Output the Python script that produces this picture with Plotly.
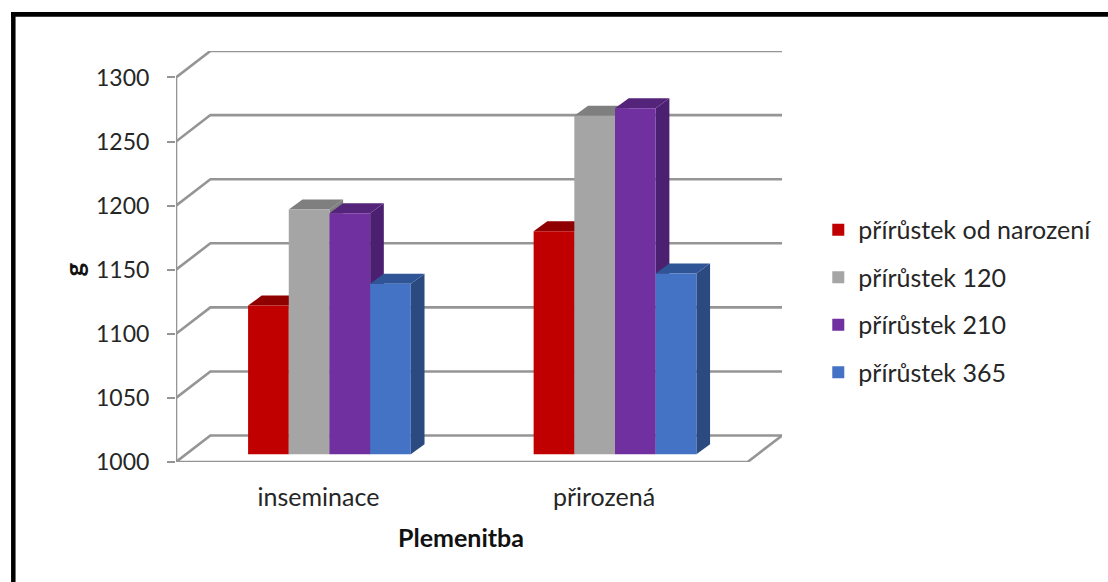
import plotly.graph_objects as go

# Average gain by breeding method
categories = ["inseminace", "přirozená"]
series_names = ["přírůstek od narození", "přírůstek 120", "přírůstek 210", "přírůstek 365"]
gain_birth = [1116, 1174]
gain_120 = [1191, 1264]
gain_210 = [1188, 1270]
gain_365 = [1133, 1141]
y_ticks = [1000, 1050, 1100, 1150, 1200, 1250, 1300]

series_values = [gain_birth, gain_120, gain_210, gain_365]
front_colors = ["#C00000", "#A5A5A5", "#7030A0", "#4472C4"]
top_colors = ["#8F0000", "#7F7F7F", "#54247A", "#2F5597"]
side_colors = ["#8F0000", "#7F7F7F", "#4B2070", "#2A4A80"]

WIDTH, HEIGHT = 1108, 582
LEFT, RIGHT_EDGE, TOP, BOTTOM_EDGE = 175.5, 781.7, 51.3, 461.7
PX_PER_X = 285.65      # pixels between two category centres
PX_PER_Y = 1.28        # pixels per gram
X_MIN = -(329 - LEFT) / PX_PER_X
X_MAX = (RIGHT_EDGE - 329) / PX_PER_X
Y_MIN = y_ticks[0]
Y_MAX = Y_MIN + (BOTTOM_EDGE - TOP) / PX_PER_Y

# Oblique projection offsets, converted to axis units
WALL_DX, WALL_DY = 34.4 / PX_PER_X, 26.4 / PX_PER_Y
BAR_DX, BAR_DY = 13.7 / PX_PER_X, 10 / PX_PER_Y
BAR_LIFT = 7.7 / PX_PER_Y
BAR_W = 40.7 / PX_PER_X
GROUP_W = BAR_W * len(series_names)
FLOOR_FRONT_MAX = X_MAX - WALL_DX
LABEL_SHIFT = -11 / PX_PER_X
GRID = "#959595"
PLOT_W = RIGHT_EDGE - LEFT
PLOT_H = BOTTOM_EDGE - TOP


def path(points):
    return "M" + " L".join(f"{x:.5f},{y:.3f}" for x, y in points)


def data_shape(points, fill=None, line=GRID, width=2.6):
    shape = dict(type="path", xref="x", yref="y", layer="below", path=path(points))
    if fill:
        shape.update(path=path(points) + " Z", fillcolor=fill, line=dict(width=0))
    else:
        shape.update(line=dict(color=line, width=width))
    return shape


def page_x(px):
    return (px - LEFT) / PLOT_W


def page_y(px):
    return (BOTTOM_EDGE - px) / PLOT_H


def page_rect(x0, y0, x1, y1):
    return dict(type="rect", xref="paper", yref="paper", layer="above",
                x0=page_x(x0), x1=page_x(x1), y0=page_y(y0), y1=page_y(y1),
                fillcolor="#000000", line=dict(width=0))


shapes = []

# Walls: each gridline runs along the side wall, then across the back wall
for tick in y_ticks:
    shapes.append(data_shape([(X_MIN, tick), (X_MIN + WALL_DX, tick + WALL_DY), (X_MAX, tick + WALL_DY)]))

# Floor outline and the vertical axis
shapes.append(data_shape([(X_MIN, Y_MIN), (FLOOR_FRONT_MAX, Y_MIN), (X_MAX, Y_MIN + WALL_DY)]))
shapes.append(data_shape([(X_MIN, Y_MIN), (X_MIN, y_ticks[-1])]))

# Top and side faces of the bars, drawn series by series underneath the front faces
for s, values in enumerate(series_values):
    for g, value in enumerate(values):
        x0 = g - GROUP_W / 2 + s * BAR_W
        x1 = x0 + BAR_W
        y0 = Y_MIN + BAR_LIFT
        y1 = value + BAR_LIFT
        shapes.append(data_shape(
            [(x1, y0), (x1 + BAR_DX, y0 + BAR_DY), (x1 + BAR_DX, y1 + BAR_DY), (x1, y1)],
            fill=side_colors[s]))
        shapes.append(data_shape(
            [(x0, y1), (x0 + BAR_DX, y1 + BAR_DY), (x1 + BAR_DX, y1 + BAR_DY), (x1, y1)],
            fill=top_colors[s]))

# Page frame
shapes.append(page_rect(10.5, 12.3, 15, HEIGHT))
shapes.append(page_rect(10.5, 12.3, WIDTH, 17))

fig = go.Figure()
for s, name in enumerate(series_names):
    fig.add_trace(go.Bar(
        name=name,
        legendgroup=name,
        x=list(range(len(categories))),
        y=[v - Y_MIN for v in series_values[s]],
        base=Y_MIN + BAR_LIFT,
        marker=dict(color=front_colors[s], line=dict(width=0)),
    ))

TEXT = "#262626"
TITLE_TEXT = "#111111"
FONT = "Lato"

fig.update_layout(
    width=WIDTH,
    height=HEIGHT,
    autosize=False,
    margin=dict(l=LEFT, r=WIDTH - RIGHT_EDGE, t=TOP, b=HEIGHT - BOTTOM_EDGE, pad=0, autoexpand=False),
    paper_bgcolor="#FFFFFF",
    plot_bgcolor="#FFFFFF",
    font=dict(family=FONT, color=TEXT),
    barmode="group",
    bargap=1 - GROUP_W,
    bargroupgap=0,
    shapes=shapes,
    showlegend=True,
    legend=dict(
        x=page_x(831),
        xanchor="left",
        y=page_y(207),
        yanchor="top",
        font=dict(size=25, family=FONT, color=TEXT),
        tracegroupgap=12,
        traceorder="grouped",
        indentation=-13,
        bgcolor="rgba(0,0,0,0)",
    ),
    annotations=[
        dict(text="<b>Plemenitba</b>", xref="paper", yref="paper", x=page_x(461), y=page_y(537),
             xanchor="center", yanchor="middle", showarrow=False,
             font=dict(size=25, family=FONT, color=TITLE_TEXT)),
        dict(text="<b>g</b>", xref="paper", yref="paper", x=page_x(73), y=page_y(270),
             xanchor="center", yanchor="middle", showarrow=False, textangle=-90,
             font=dict(size=26, family=FONT, color=TITLE_TEXT)),
    ],
    xaxis=dict(
        range=[X_MIN, X_MAX],
        tickvals=[i + LABEL_SHIFT for i in range(len(categories))],
        ticktext=categories,
        showgrid=False,
        zeroline=False,
        showline=False,
        ticks="",
        ticklabelstandoff=18,
        tickfont=dict(size=25, family=FONT, color=TEXT),
        automargin=False,
    ),
    yaxis=dict(
        range=[Y_MIN, Y_MAX],
        tickvals=y_ticks,
        showgrid=False,
        zeroline=False,
        showline=False,
        ticks="outside",
        ticklen=8,
        tickwidth=2,
        tickcolor=GRID,
        ticklabelstandoff=13,
        tickfont=dict(size=23, family=FONT, color=TEXT),
        automargin=False,
    ),
)

fig.write_html("out.html")
